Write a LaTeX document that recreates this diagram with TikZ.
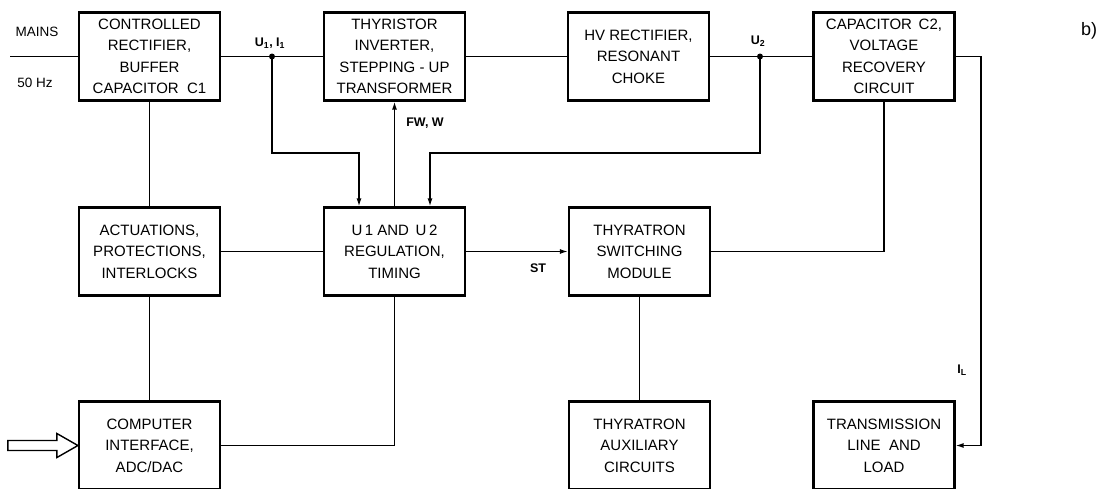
\documentclass[tikz,border=0pt]{standalone}
\usepackage{fontspec}
\setmainfont{Liberation Sans}
\usetikzlibrary{arrows.meta,calc}
\begin{document}
\begin{tikzpicture}[x=1pt,y=-1pt]
\tikzset{
 blk/.style={draw, line width=2.2pt, minimum width=141pt, minimum height=88pt, inner sep=0pt, align=center, font=\fontsize{15}{21.5}\selectfont},
 wire/.style={line width=1.4pt},
 arr/.style={wire, -{Latex[length=8pt,width=5pt]}},
 jdot/.style={circle, fill, inner sep=0pt, minimum size=6pt},
 lbl/.style={inner sep=0pt, font=\bfseries\fontsize{12.5}{14}\selectfont},
 plain/.style={inner sep=0pt, font=\fontsize{13.5}{15}\selectfont}
}
\useasboundingbox (0,0) rectangle (1109,488);
\clip (0,0) rectangle (1109,488);
% blocks
\node[blk] (cr) at (149.5,56.5) {CONTROLLED\\RECTIFIER,\\BUFFER\\CAPACITOR \ C1};
\node[blk] (inv) at (394.5,56.5) {THYRISTOR\\INVERTER,\\STEPPING - UP\\TRANSFORMER};
\node[blk] (hv) at (638.5,56.5) {HV RECTIFIER,\\RESONANT\\CHOKE};
\node[blk] (c2) at (884,56.5) {CAPACITOR \,C2,\\VOLTAGE\\RECOVERY\\CIRCUIT};
\node[blk] (act) at (149.5,251.5) {ACTUATIONS,\\PROTECTIONS,\\INTERLOCKS};
\node[blk] (reg) at (394.5,251.5) {U\,1 AND \,U\,2\\REGULATION,\\TIMING};
\node[blk] (sw) at (639.5,251.5) {THYRATRON\\SWITCHING\\MODULE};
\node[blk] (ci) at (149.5,445.5) {COMPUTER\\INTERFACE,\\ADC/DAC};
\node[blk] (aux) at (639.5,445.5) {THYRATRON\\AUXILIARY\\CIRCUITS};
\node[blk] (tl) at (884,445.5) {TRANSMISSION\\LINE \ AND\\LOAD};
% coordinates
\coordinate (mainsin) at (10,56.5);
\coordinate (rr) at (981,56.5);
\coordinate (t1) at (359,153);
\coordinate (t2) at (430,153);
% connectors
\draw[wire] (mainsin) -- (cr.west);
\draw[wire] (cr.east) -- (inv.west);
\draw[wire] (inv.east) -- (hv.west);
\draw[wire] (hv.east) -- (c2.west);
\node[jdot] (j1) at (272,56.5) {};
\node[jdot] (j2) at (760,56.5) {};
\draw[arr] (c2.east) -- (rr) |- (tl.east);
\draw[wire] (c2.south) |- (sw.east);
\draw[wire] (cr.south) -- (act.north);
\draw[wire] (act.south) -- (ci.north);
\draw[wire] (act.east) -- (reg.west);
\draw[arr] (reg.east) -- (sw.west);
\draw[arr] (reg.north) -- (inv.south);
\draw[arr] (j1.center) |- (t1) -- (t1 |- reg.north);
\draw[arr] (j2.center) |- (t2) -- (t2 |- reg.north);
\draw[wire] (reg.south) |- (ci.east);
\draw[wire] (sw.south) -- (aux.north);
% hollow input arrow
\draw[line width=1.4pt, line join=miter] (ci.west) -- ++(-21,-12) -- ++(0,7) -- ++(-49,0) -- ++(0,10) -- ++(49,0) -- ++(0,7) -- cycle;
% labels
\node[plain] (lmains) at (37,32) {MAINS};
\node[plain] (lhz) at (35,83) {50 Hz};
\node[lbl] (lu1) at (270,43) {U\textsubscript{1}, I\textsubscript{1}};
\node[lbl] (lu2) at (758,41) {U\textsubscript{2}};
\node[lbl] (lfw) at (425,123) {FW, W};
\node[lbl] (lst) at (538,268) {ST};
\node[lbl] (lil) at (962,370) {I\textsubscript{L}};
\node[inner sep=0pt, font=\fontsize{18}{20}\selectfont] (lb) at (1089,31) {b)};
\end{tikzpicture}
\end{document}
